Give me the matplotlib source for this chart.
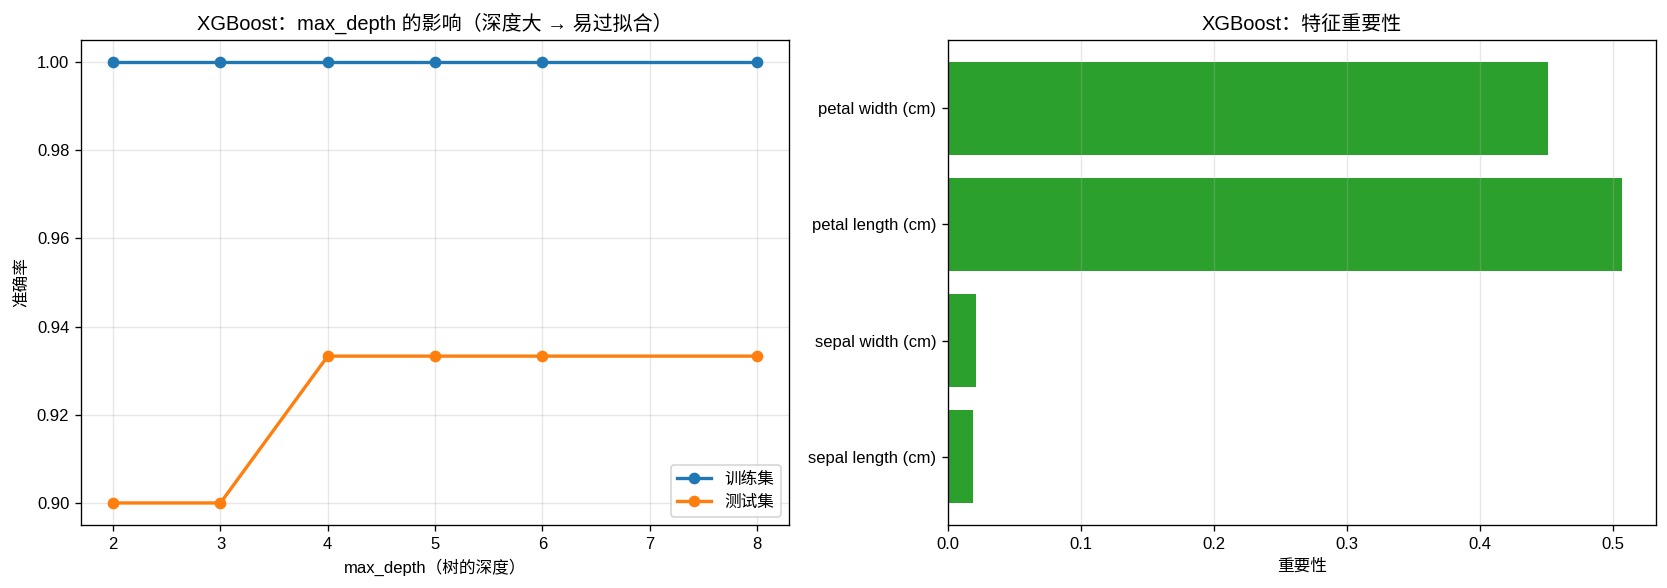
import matplotlib
matplotlib.use("Agg")
import matplotlib.pyplot as plt

# Latin glyphs in an Arial-like face, CJK falls back to Noto
plt.rcParams['font.family'] = ['Liberation Sans', 'Noto Sans CJK SC', 'DejaVu Sans']
plt.rcParams['axes.unicode_minus'] = False

depths = [2, 3, 4, 5, 6, 8]
train_acc = [1.0, 1.0, 1.0, 1.0, 1.0, 1.0]
test_acc = [0.9, 0.9, 0.9333, 0.9333, 0.9333, 0.9333]

features = ["sepal length (cm)", "sepal width (cm)", "petal length (cm)", "petal width (cm)"]
importances = [0.019, 0.021, 0.507, 0.451]

W, H = 1667, 588
fig, axes = plt.subplots(1, 2, figsize=(W / 120, H / 120), dpi=120)
fig.subplots_adjust(left=81 / W, right=1656 / W, bottom=1 - 525 / H, top=1 - 40 / H,
                    wspace=159 / 708)

ax = axes[0]
ax.plot(depths, train_acc, marker='o', linewidth=2, label='训练集')
ax.plot(depths, test_acc, marker='o', linewidth=2, label='测试集')
ax.set_title("XGBoost：max_depth 的影响（深度大 → 易过拟合）")
ax.set_xlabel("max_depth（树的深度）")
ax.set_ylabel("准确率")
ax.legend(loc='lower right')
ax.grid(alpha=0.3)

ax = axes[1]
ax.barh(features, importances, color='#2ca02c')
ax.set_title("XGBoost：特征重要性")
ax.set_xlabel("重要性")
ax.grid(axis='x', alpha=0.3)

plt.savefig("out.png")
